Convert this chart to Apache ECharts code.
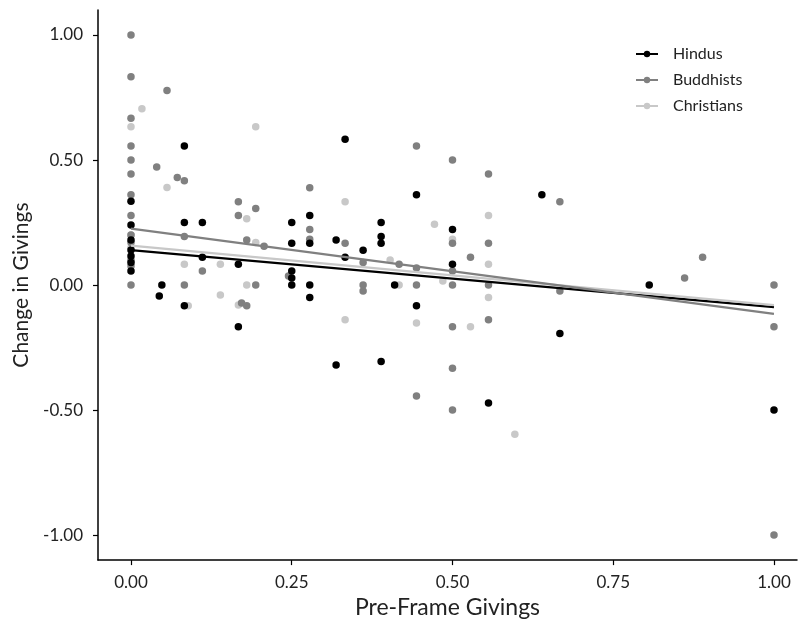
<!DOCTYPE html>
<html>
<head>
<meta charset="utf-8">
<script src="https://cdn.jsdelivr.net/npm/echarts@6/dist/echarts.min.js"></script>
<style>html,body{margin:0;padding:0;background:#fff}#c{width:799px;height:624px}</style>
</head>
<body>
<div id="c"></div>
<script>
const seriesNames = ['Hindus', 'Buddhists', 'Christians'];
const xTicks = [0, 0.25, 0.5, 0.75, 1];
const yTicks = [-1, -0.5, 0, 0.5, 1];

const hindus = [
  [0,0.335],[0,0.24],[0,0.18],[0,0.14],[0,0.116],[0,0.09],[0,0.056],
  [0.044,-0.044],[0.048,0],[0.083,0.556],[0.083,0.25],[0.083,-0.083],
  [0.111,0.25],[0.111,0.111],[0.167,0.083],[0.167,-0.167],
  [0.25,0.25],[0.25,0.167],[0.25,0.056],[0.25,0.028],[0.25,0],
  [0.278,0.278],[0.278,0.167],[0.278,0],[0.278,-0.05],
  [0.319,0.18],[0.319,-0.32],[0.333,0.583],[0.333,0.111],[0.361,0.139],
  [0.389,0.25],[0.389,0.194],[0.389,0.167],[0.389,-0.306],[0.41,0],
  [0.444,0.361],[0.444,-0.083],[0.5,0.222],[0.5,0.083],[0.556,-0.472],
  [0.639,0.361],[0.667,-0.194],[0.806,0],[1,-0.5]
];
const buddhists = [
  [0,1],[0,0.833],[0,0.667],[0,0.556],[0,0.5],[0,0.444],[0,0.361],[0,0.278],
  [0,0.2],[0,0.17],[0,0.1],[0,0.076],[0,0],
  [0.04,0.472],[0.056,0.778],[0.072,0.43],[0.083,0.417],[0.083,0.194],[0.083,0],
  [0.111,0.056],[0.167,0.333],[0.167,0.278],[0.172,-0.072],[0.18,0.18],[0.18,-0.083],
  [0.194,0.306],[0.194,0],[0.207,0.155],[0.245,0.036],
  [0.278,0.389],[0.278,0.222],[0.278,0.183],[0.333,0.167],
  [0.361,0.09],[0.361,0],[0.361,-0.024],[0.417,0.083],
  [0.444,0.556],[0.444,0.068],[0.444,0],[0.444,-0.444],
  [0.5,0.5],[0.5,0.167],[0.5,0.056],[0.5,0],[0.5,-0.167],[0.5,-0.333],[0.5,-0.5],
  [0.528,0.111],[0.556,0.444],[0.556,0.167],[0.556,0],[0.556,-0.139],
  [0.667,0.333],[0.667,-0.024],[0.861,0.028],[0.889,0.111],
  [1,0],[1,-0.167],[1,-1]
];
const christians = [
  [0,0.633],[0,0.2],[0,0.15],[0.017,0.705],[0.056,0.39],[0.194,0.633],
  [0.083,0.083],[0.089,-0.083],[0.139,0.083],[0.139,-0.04],
  [0.18,0.265],[0.194,0.17],[0.18,0],[0.167,-0.08],
  [0.333,0.333],[0.472,0.243],[0.5,0.183],[0.403,0.1],[0.485,0.016],[0.417,0],
  [0.333,-0.139],[0.444,-0.152],[0.528,-0.167],
  [0.556,0.278],[0.556,0.083],[0.556,-0.05],[0.597,-0.597]
];

// fitted regression line endpoints (x = 0 and x = 1)
const hinduFit = [[0,0.14],[1,-0.088]];
const buddhistFit = [[0,0.226],[1,-0.115]];
const christianFit = [[0,0.158],[1,-0.08]];

const colors = { Hindus: '#000000', Buddhists: '#808080', Christians: '#c8c8c8' };
const FONT = 'Lato';

const chart = echarts.init(document.getElementById('c'), null, { renderer: 'canvas' });

function scatter(name, data, z) {
  return {
    name, type: 'scatter', data, symbol: 'circle', symbolSize: 7.5, z,
    itemStyle: { color: colors[name], opacity: 1 },
    emphasis: { disabled: true }, silent: true
  };
}
function fit(name, data, z) {
  return {
    name, type: 'line', data, symbol: 'circle', symbolSize: 6, showSymbol: false, z,
    lineStyle: { color: colors[name], width: 2.2 },
    itemStyle: { color: colors[name] },
    emphasis: { disabled: true }, silent: true, animation: false
  };
}

chart.setOption({
  animation: false,
  backgroundColor: '#ffffff',
  textStyle: { fontFamily: FONT },
  grid: { left: 98, right: 2, top: 10, bottom: 63, containLabel: false },
  legend: {
    data: seriesNames,
    orient: 'vertical',
    left: 630, top: 41,
    itemWidth: 22, itemHeight: 8, itemGap: 10,
    textStyle: { fontFamily: FONT, fontSize: 16, color: '#222', padding: [0, 0, 0, 10] }
  },
  xAxis: {
    type: 'value', min: -0.0513, max: 1.0358,
    name: 'Pre-Frame Givings', nameLocation: 'middle', nameGap: 34,
    nameTextStyle: { fontFamily: FONT, fontSize: 23, color: '#222' },
    axisLine: { show: true, onZero: false, lineStyle: { color: '#000', width: 1.5 } },
    axisTick: { show: true, length: 5, customValues: xTicks, lineStyle: { color: '#000', width: 1.2 } },
    axisLabel: { customValues: xTicks, formatter: v => v.toFixed(2), fontSize: 17, color: '#222', margin: 14, fontFamily: FONT },
    splitLine: { show: false }
  },
  yAxis: {
    type: 'value', min: -1.1, max: 1.1,
    name: 'Change in Givings', nameLocation: 'middle', nameGap: 66, nameRotate: 90,
    nameTextStyle: { fontFamily: FONT, fontSize: 21, color: '#222' },
    axisLine: { show: true, onZero: false, lineStyle: { color: '#000', width: 1.5 } },
    axisTick: { show: true, length: 5, customValues: yTicks, lineStyle: { color: '#000', width: 1.2 } },
    axisLabel: { customValues: yTicks, formatter: v => v.toFixed(2), fontSize: 17, color: '#222', margin: 15, fontFamily: FONT },
    splitLine: { show: false }
  },
  series: [
    fit('Hindus', hinduFit, 5),
    fit('Buddhists', buddhistFit, 7),
    fit('Christians', christianFit, 6),
    scatter('Christians', christians, 2),
    scatter('Buddhists', buddhists, 3),
    scatter('Hindus', hindus, 4)
  ]
});
</script>
</body>
</html>
